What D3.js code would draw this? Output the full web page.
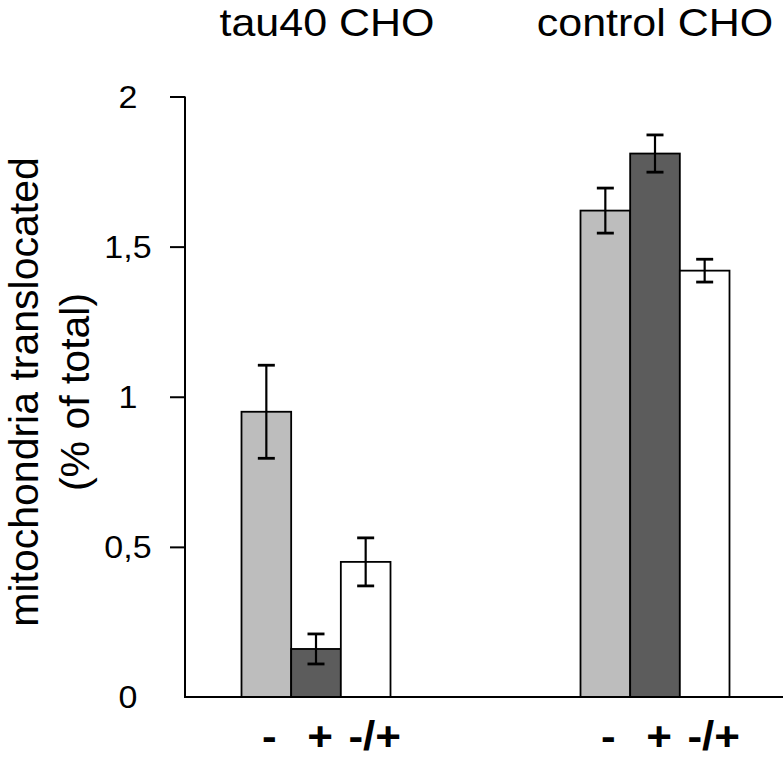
<!DOCTYPE html>
<html>
<head>
<meta charset="utf-8">
<script src="https://cdn.jsdelivr.net/npm/d3@7/dist/d3.min.js"></script>
<style>
  html, body { margin: 0; padding: 0; background: #fff; }
  svg { display: block; }
  text { font-family: "Liberation Sans", Arial, Helvetica, sans-serif; fill: #000; }
</style>
</head>
<body>
<svg id="chart" width="783" height="759"></svg>
<script>
// ---- data ----
const groups = ["tau40 CHO", "control CHO"];
const treatments = ["-", "+", "-/+"];
const tauValues = [0.95, 0.16, 0.45];
const tauErrors = [0.155, 0.05, 0.08];
const controlValues = [1.62, 1.81, 1.42];
const controlErrors = [0.075, 0.062, 0.038];
const yTicks = [0, 0.5, 1, 1.5, 2];
const yTickLabels = ["0", "0,5", "1", "1,5", "2"];
const yLabelLines = ["mitochondria translocated", "(% of total)"];

const fills = ["#bdbdbd", "#5c5c5c", "#ffffff"];

const data = [];
groups.forEach((g, gi) => {
  const vals = gi === 0 ? tauValues : controlValues;
  const errs = gi === 0 ? tauErrors : controlErrors;
  treatments.forEach((t, ti) => data.push({ group: g, treatment: t, value: vals[ti], err: errs[ti] }));
});

const svg = d3.select("#chart");
const squash = 0.91;

const y = d3.scaleLinear().domain([0, 2]).range([697, 96.5]);
const xGroup = d3.scalePoint().domain(groups).range([316, 655]);
const xSub = d3.scaleBand().domain(treatments).range([-74.5, 74.5]).padding(0);

const axisX = 185;

// bars
svg.append("g").selectAll("rect").data(data).join("rect")
  .attr("x", d => xGroup(d.group) + xSub(d.treatment))
  .attr("y", d => y(d.value))
  .attr("width", xSub.bandwidth())
  .attr("height", d => y(0) - y(d.value))
  .attr("fill", d => fills[treatments.indexOf(d.treatment)])
  .attr("stroke", "#000")
  .attr("stroke-width", 1.8);

// error bars
const capW = 17;
const eg = svg.append("g").attr("stroke", "#000");
data.forEach(d => {
  const cx = xGroup(d.group) + xSub(d.treatment) + xSub.bandwidth() / 2;
  eg.append("line").attr("x1", cx).attr("x2", cx)
    .attr("y1", y(d.value + d.err)).attr("y2", y(d.value - d.err)).attr("stroke-width", 2.2);
  [d.value + d.err, d.value - d.err].forEach(v => {
    eg.append("line").attr("x1", cx - capW / 2).attr("x2", cx + capW / 2)
      .attr("y1", y(v)).attr("y2", y(v)).attr("stroke-width", 2.8);
  });
});

// y axis
const yAxis = d3.axisLeft(y).tickValues(yTicks).tickSize(15).tickFormat("");
const ya = svg.append("g").attr("transform", `translate(${axisX},0)`).call(yAxis);
ya.select(".domain").remove();
ya.selectAll(".tick line").attr("stroke", "#000").attr("stroke-width", 2)
  .filter(d => d === 0).remove();
svg.append("line").attr("x1", axisX).attr("x2", axisX)
  .attr("y1", y(2)).attr("y2", y(0) + 1).attr("stroke", "#000").attr("stroke-width", 2);

// x axis baseline
svg.append("line").attr("x1", axisX - 1).attr("x2", 800)
  .attr("y1", y(0)).attr("y2", y(0)).attr("stroke", "#000").attr("stroke-width", 2.2);

// y tick labels
svg.append("g").selectAll("text").data(yTicks).join("text")
  .attr("transform", d => `translate(128,${y(d) + 11}) scale(1,${squash})`)
  .attr("text-anchor", "middle")
  .style("font-size", "34px")
  .text((d, i) => yTickLabels[i]);

// y axis label
const yl = svg.append("g").attr("transform", "translate(0,392) rotate(-90)");
yLabelLines.forEach((line, i) => {
  yl.append("text")
    .attr("x", 0).attr("y", 38 + i * 51)
    .attr("text-anchor", "middle")
    .style("font-size", "41px")
    .text(line);
});

// group titles
const titleOffsets = [11, 0];
svg.append("g").selectAll("text").data(groups).join("text")
  .attr("transform", (d, i) => `translate(${xGroup(d) + titleOffsets[i]},36) scale(1,${squash})`)
  .attr("text-anchor", "middle")
  .style("font-size", "43px")
  .text(d => d);

// treatment labels
const subOffsets = [3, 4, 9];
svg.append("g").selectAll("text").data(data).join("text")
  .attr("transform", d => {
    const ti = treatments.indexOf(d.treatment);
    const cx = xGroup(d.group) + xSub(d.treatment) + xSub.bandwidth() / 2 + subOffsets[ti];
    return `translate(${cx},750) scale(1,${squash})`;
  })
  .attr("text-anchor", "middle")
  .style("font-size", "44px")
  .style("font-weight", "bold")
  .text(d => d.treatment);
</script>
</body>
</html>
